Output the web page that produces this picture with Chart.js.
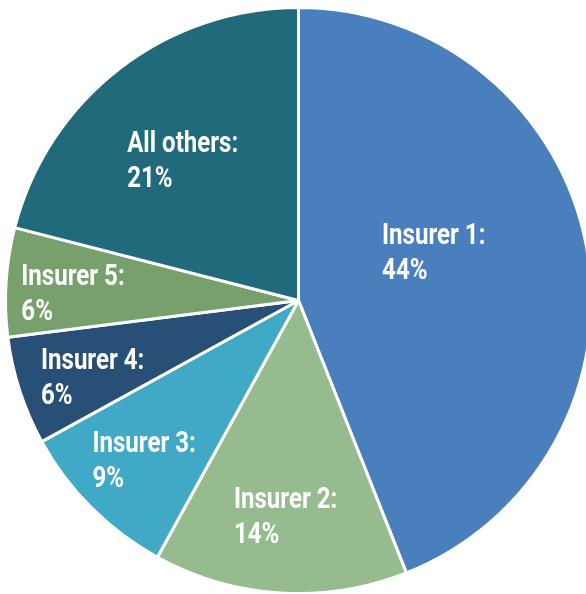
<!DOCTYPE html>
<html>
<head>
<meta charset="utf-8">
<script src="https://cdn.jsdelivr.net/npm/chart.js"></script>
<style>
  html, body { margin: 0; padding: 0; background: #fff; overflow: hidden; }
  #wrap { position: absolute; left: 0; top: 0; width: 597px; height: 599px; }
</style>
</head>
<body>
<div id="wrap"><canvas id="chart" width="597" height="599"></canvas></div>
<script>
// Market share by insurer, clockwise from 12 o'clock
const categories = ['Insurer 1', 'Insurer 2', 'Insurer 3', 'Insurer 4', 'Insurer 5', 'All others'];
const shares = [44, 14, 9, 6, 6, 21];
const sliceColors = ['#4a7fbe', '#95bb8f', '#40a9c6', '#284f75', '#77a06c', '#216a7c'];

// label placement: fraction of radius from centre, and turn (deg) off the slice mid-angle
const labelRadius = [0.49, 0.74, 0.76, 0.75, 0.77, 0.62];
const labelTurn = [-8.8, -0.2, -1.1, -2.5, -1.8, -1.8];

const FONT = 'bold 29px Roboto, "Noto Sans", sans-serif';
const SQUEEZE = 0.83; // the original type is a condensed face

const sliceLabels = {
    id: 'sliceLabels',
    afterDatasetsDraw(chart) {
        const ctx = chart.ctx;
        const meta = chart.getDatasetMeta(0);
        ctx.font = FONT;
        meta.data.forEach((arc, i) => {
            const p = arc.getProps(['x', 'y', 'startAngle', 'endAngle', 'outerRadius'], true);
            const mid = (p.startAngle + p.endAngle) / 2 + labelTurn[i] * Math.PI / 180;
            const cx = p.x + Math.cos(mid) * p.outerRadius * labelRadius[i];
            const cy = p.y + Math.sin(mid) * p.outerRadius * labelRadius[i];
            const line1 = categories[i] + ':';
            const line2 = shares[i] + '%';
            const w = ctx.measureText(line1).width * SQUEEZE;
            ctx.save();
            ctx.translate(cx - w / 2, cy - 1.5);
            ctx.scale(SQUEEZE, 1);
            ctx.font = FONT;
            ctx.fillStyle = '#ffffff';
            ctx.textAlign = 'left';
            ctx.textBaseline = 'alphabetic';
            ctx.fillText(line1, 0, -7);
            ctx.fillText(line2, 0, 28);
            ctx.restore();
        });
    }
};

new Chart(document.getElementById('chart').getContext('2d'), {
    type: 'pie',
    data: {
        labels: categories,
        datasets: [{
            data: shares,
            backgroundColor: sliceColors,
            borderColor: '#ffffff',
            borderWidth: 3
        }]
    },
    options: {
        responsive: false,
        animation: false,
        rotation: 0,
        layout: { padding: { left: 4, right: 4, top: 6, bottom: 4 } },
        plugins: {
            legend: { display: false },
            tooltip: { enabled: false }
        }
    },
    plugins: [sliceLabels]
});
</script>
</body>
</html>
